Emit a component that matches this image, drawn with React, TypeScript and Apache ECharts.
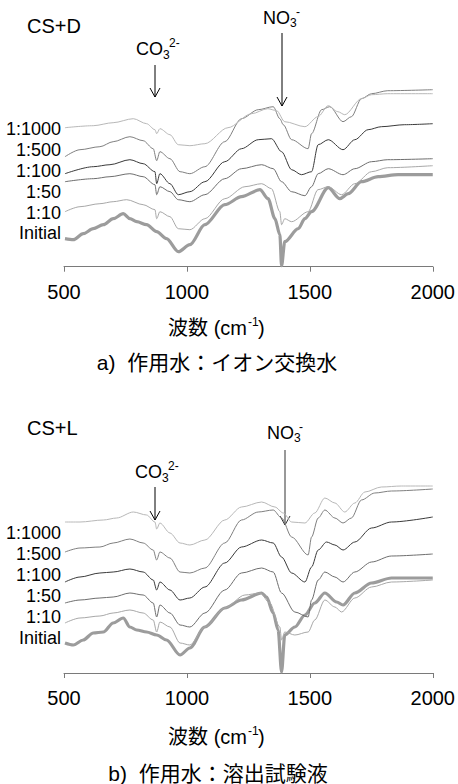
import React, { useEffect, useRef } from "react";
import * as echarts from "echarts";

// ---- Data (wavenumber cm-1, offset absorbance in arbitrary units) ----
const xTicks = [500, 1000, 1500, 2000];
const seriesNames = ["Initial", "1:10", "1:50", "1:100", "1:500", "1:1000"];

// a) CS+D
const dInitial = [[504,28],[538,27],[578,33],[619,38],[660,42],[700,48],[741,53],[768,48],[796,45],[836,42],[877,35],[917,28],[965,15],[1012,22],[1073,42],[1154,62],[1222,70],[1297,77],[1330,68],[1358,48],[1378,32],[1385,1],[1398,25],[1453,38],[1480,48],[1507,55],[1575,79],[1622,68],[1656,73],[1710,85],[1778,90],[1859,92],[2000,92]];
const d10 = [[504,55],[565,60],[646,63],[700,65],[755,67],[822,62],[870,57],[877,48],[890,55],[931,50],[965,38],[1012,37],[1073,48],[1154,68],[1236,80],[1304,83],[1344,78],[1378,55],[1385,42],[1398,48],[1426,45],[1493,55],[1533,77],[1575,80],[1629,72],[1683,83],[1751,95],[1817,99],[2000,101]];
const d50 = [[504,85],[619,88],[687,90],[768,93],[822,90],[870,82],[877,72],[890,80],[931,75],[965,67],[1012,65],[1073,72],[1154,88],[1222,98],[1304,102],[1351,98],[1385,85],[1426,75],[1480,71],[1507,80],[1534,93],[1575,98],[1635,92],[1683,98],[1751,105],[1817,107],[2000,108]];
const d100 = [[504,93],[619,100],[687,102],[768,107],[822,103],[870,95],[877,83],[890,93],[931,83],[965,72],[1012,75],[1073,85],[1154,105],[1222,118],[1290,127],[1344,128],[1385,115],[1426,97],[1466,92],[1507,95],[1534,122],[1575,127],[1635,117],[1683,127],[1737,137],[1791,140],[1886,142],[2000,143]];
const d500 = [[504,110],[565,117],[646,120],[700,125],[768,130],[822,126],[863,118],[877,106],[890,115],[931,108],[972,95],[1012,93],[1073,100],[1154,125],[1222,148],[1290,157],[1351,160],[1378,148],[1392,142],[1426,127],[1493,118],[1507,133],[1548,157],[1581,160],[1635,145],[1669,150],[1710,168],[1751,173],[1817,176],[2000,177]];
const d1000 = [[504,139],[619,141],[700,144],[782,148],[836,143],[870,137],[877,133],[890,138],[931,132],[965,122],[1012,121],[1073,123],[1167,139],[1263,153],[1329,158],[1365,156],[1398,145],[1480,140],[1533,150],[1575,161],[1614,155],[1642,152],[1710,168],[1751,172],[1817,173],[2000,173]];

// b) CS+L
const bInitial = [[504,30],[538,28],[578,33],[619,40],[660,41],[700,50],[741,55],[768,46],[796,43],[836,41],[877,38],[917,33],[972,18],[1012,25],[1073,46],[1154,65],[1222,73],[1304,80],[1324,76],[1351,60],[1371,43],[1385,1],[1398,38],[1439,46],[1480,58],[1520,70],[1561,80],[1609,71],[1635,68],[1683,80],[1751,90],[1832,95],[2000,95]];
const b10 = [[504,50],[565,55],[646,57],[700,60],[768,63],[822,60],[863,53],[877,41],[890,51],[931,46],[972,30],[1012,28],[1073,46],[1154,65],[1236,78],[1297,80],[1337,70],[1378,46],[1385,33],[1398,41],[1439,38],[1493,41],[1520,53],[1561,73],[1602,66],[1629,61],[1683,75],[1751,86],[1832,91],[2000,93]];
const b50 = [[504,70],[565,73],[646,75],[700,76],[768,80],[822,78],[863,70],[877,56],[890,68],[931,60],[972,48],[1012,46],[1073,60],[1154,83],[1222,100],[1304,105],[1351,101],[1385,80],[1439,61],[1493,56],[1507,73],[1534,93],[1561,101],[1602,96],[1635,91],[1683,101],[1751,111],[1832,117],[2000,119]];
const b100 = [[504,91],[565,96],[646,100],[700,101],[768,104],[822,101],[863,93],[877,83],[890,91],[931,83],[972,73],[1012,75],[1073,86],[1154,110],[1222,126],[1304,133],[1351,130],[1385,116],[1426,100],[1480,91],[1507,106],[1534,123],[1568,131],[1602,128],[1635,123],[1683,131],[1751,145],[1832,151],[2000,156]];
const b500 = [[504,121],[565,125],[646,126],[700,130],[768,134],[822,130],[863,123],[877,113],[890,121],[931,115],[972,101],[1012,100],[1073,105],[1154,130],[1222,153],[1290,161],[1351,163],[1385,155],[1426,136],[1493,118],[1507,136],[1534,155],[1561,163],[1602,155],[1635,150],[1669,155],[1710,173],[1764,180],[1832,182],[2000,184]];
const b1000 = [[504,151],[565,151],[660,153],[714,155],[782,161],[836,158],[870,151],[877,144],[890,150],[931,140],[972,130],[1012,128],[1073,133],[1154,153],[1222,166],[1304,171],[1358,166],[1392,160],[1426,151],[1480,150],[1520,160],[1561,175],[1602,170],[1642,161],[1683,170],[1724,181],[1791,186],[1873,187],[2000,187]];

const topSeries = [dInitial, d10, d50, d100, d500, d1000];
const bottomSeries = [bInitial, b10, b50, b100, b500, b1000];

const lineColors = ["#9c9c9c", "#a8a8a8", "#6e6e6e", "#3a3a3a", "#808080", "#b8b8b8"];
const lineWidths = [3.2, 1, 1, 1, 1, 1];

const FONT = '"Liberation Sans", Arial, "Noto Sans CJK JP", sans-serif';

function txt(text: string, x: number, y: number, size: number, align = "left", color = "#000") {
  return {
    type: "text",
    x,
    y,
    silent: true,
    style: {
      text,
      fill: color,
      font: `${size}px ${FONT}`,
      textAlign: align,
      textVerticalAlign: "middle",
      align,
      verticalAlign: "middle",
    },
  };
}

function arrow(x: number, y1: number, y2: number, color = "#000") {
  return [
    { type: "line", silent: true, shape: { x1: x, y1, x2: x, y2 }, style: { stroke: color, lineWidth: 1 } },
    {
      type: "polyline",
      silent: true,
      shape: { points: [[x - 5, y2 - 9], [x, y2], [x + 5, y2 - 9]] },
      style: { stroke: color, lineWidth: 1, fill: null },
    },
  ];
}

export default function App() {
  const ref = useRef<HTMLDivElement>(null);
  useEffect(() => {
    if (!ref.current) return;
    const chart = echarts.init(ref.current, null, { renderer: "svg" });

    const xAxisBase = {
      type: "value",
      min: 500,
      max: 2000,
      interval: 500,
      axisLine: { show: true, lineStyle: { color: "#7a7a7a", width: 1 } },
      axisTick: { show: true, length: 5, lineStyle: { color: "#7a7a7a", width: 1 } },
      axisLabel: {
        fontSize: 20,
        color: "#000",
        fontFamily: FONT,
        margin: 15,
        formatter: (v: number) => (xTicks.includes(v) ? String(v) : ""),
      },
      splitLine: { show: false },
    };

    const series: any[] = [];
    [topSeries, bottomSeries].forEach((group, gi) => {
      group.forEach((data, si) => {
        series.push({
          name: seriesNames[si] + (gi === 0 ? " D" : " L"),
          type: "line",
          xAxisIndex: gi,
          yAxisIndex: gi,
          data,
          showSymbol: false,
          symbol: "none",
          smooth: 0.3,
          smoothMonotone: "x",
          clip: false,
          silent: true,
          z: si === 0 ? 1 : 2,
          lineStyle: { color: lineColors[si], width: lineWidths[si] },
        });
      });
    });

    const labelsTopY = [233.3, 212.5, 191.5, 171, 150.3, 129.3];
    const labelsBotY = [638.3, 617.3, 596, 575, 554, 533.3];

    const graphics: any[] = [
      txt("CS+D", 27, 26, 20),
      txt("CO", 136, 49, 18),
      txt("3", 163, 55, 12),
      txt("2-", 169, 43, 12),
      ...arrow(155, 65, 97),
      txt("NO", 263, 18, 18),
      txt("3", 290, 23, 12),
      txt("-", 296, 12, 12),
      ...arrow(282, 33, 106),
      ...seriesNames.map((n, i) => txt(n, 61, labelsTopY[i], 18, "right")),
      txt("波数 (cm", 247, 328, 20, "right"),
      txt("-1", 248, 322, 12),
      txt(")", 258, 328, 20),
      txt("a)  作用水：イオン交換水", 217, 362, 21, "center"),

      txt("CS+L", 27, 428, 20),
      txt("CO", 135, 472, 18),
      txt("3", 162, 478, 12),
      txt("2-", 168, 466, 12),
      ...arrow(155, 487, 520),
      txt("NO", 267, 433, 18),
      txt("3", 294, 438, 12),
      txt("-", 299, 427, 12),
      ...arrow(285, 450, 525, "#333"),
      ...seriesNames.map((n, i) => txt(n, 61, labelsBotY[i], 18, "right")),
      txt("波数 (cm", 247, 737, 20, "right"),
      txt("-1", 248, 731, 12),
      txt(")", 258, 737, 20),
      txt("b)  作用水：溶出試験液", 218, 773, 21, "center"),
    ];

    chart.setOption({
      animation: false,
      backgroundColor: "#ffffff",
      grid: [
        { left: 64, right: 25, top: 86.7, height: 180 },
        { left: 64, right: 25, top: 473, height: 200 },
      ],
      xAxis: [
        { ...xAxisBase, gridIndex: 0 },
        { ...xAxisBase, gridIndex: 1 },
      ],
      yAxis: [
        { type: "value", gridIndex: 0, min: 0, max: 180, show: false, splitLine: { show: false } },
        { type: "value", gridIndex: 1, min: 0, max: 200, show: false, splitLine: { show: false } },
      ],
      series,
      graphic: { elements: graphics },
    });

    return () => chart.dispose();
  }, []);

  return (
    <div
      ref={ref}
      style={{ position: "absolute", left: 0, top: 0, width: 458, height: 784, background: "#fff" }}
    />
  );
}
